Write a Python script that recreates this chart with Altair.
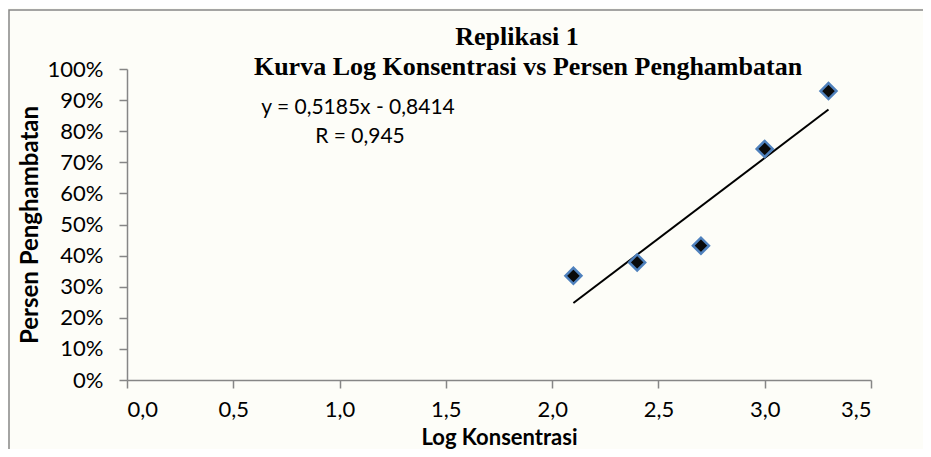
import altair as alt
import pandas as pd

# Data
log_konsentrasi = [2.1, 2.4, 2.7, 3.0, 3.3]
persen_penghambatan = [0.335, 0.378, 0.432, 0.743, 0.929]
slope = 0.5185
intercept = -0.8414
title_lines = ["Replikasi 1", "Kurva Log Konsentrasi vs Persen Penghambatan"]
equation_lines = ["y = 0,5185x - 0,8414", "R = 0,945"]
x_ticks = [0, 0.5, 1, 1.5, 2, 2.5, 3, 3.5]
y_ticks = [0, 0.1, 0.2, 0.3, 0.4, 0.5, 0.6, 0.7, 0.8, 0.9, 1.0]

W, H = 744, 311
GRAY = "#868686"

points = pd.DataFrame({"x": log_konsentrasi, "y": persen_penghambatan})
x_ends = [min(log_konsentrasi), max(log_konsentrasi)]
trend = pd.DataFrame({"x": x_ends, "y": [slope * v + intercept for v in x_ends]})

x_scale = alt.Scale(domain=[0, 3.5], nice=False, zero=False)
y_scale = alt.Scale(domain=[0, 1], nice=False)

x_axis = alt.Axis(
    title="Log Konsentrasi",
    values=x_ticks,
    tickCount=20,
    labelExpr="replace(format(datum.value, '.1f'), '.', ',')",
    labelOverlap=False,
    grid=False,
    domainColor=GRAY, domainWidth=1.5,
    tickColor=GRAY, tickWidth=1.5, tickSize=8,
    labelFont="Lato", labelFontSize=22, labelColor="#000000", labelPadding=11,
    titleFont="Lato", titleFontSize=22, titleFontWeight="bold", titleColor="#000000",
    titleBaseline="middle", titleY=57,
)
y_axis = alt.Axis(
    title="Persen Penghambatan",
    values=y_ticks,
    tickCount=20,
    format=".0%",
    labelOverlap=False,
    grid=False,
    domainColor=GRAY, domainWidth=1.5,
    tickColor=GRAY, tickWidth=1.5, tickSize=8,
    labelFont="Lato", labelFontSize=22, labelColor="#000000", labelPadding=16,
    titleFont="Lato", titleFontSize=24, titleFontWeight="bold", titleColor="#000000",
    titleBaseline="middle", titleX=-97,
)

frame = alt.Chart(pd.DataFrame({"a": [0]})).mark_rect(
    fill=None, stroke=GRAY, strokeWidth=1.5
).encode(
    x=alt.value(-118), x2=alt.value(900), y=alt.value(-59), y2=alt.value(500)
)

line = alt.Chart(trend).mark_line(color="#000000", strokeWidth=2).encode(
    x=alt.X("x:Q", scale=x_scale, axis=x_axis),
    y=alt.Y("y:Q", scale=y_scale, axis=y_axis),
)

pts = alt.Chart(points).mark_point(
    shape="diamond", filled=True, fill="#0a0a0a", stroke="#4f81bd",
    strokeWidth=2.5, size=256, opacity=1
).encode(
    x=alt.X("x:Q", scale=x_scale, axis=x_axis),
    y=alt.Y("y:Q", scale=y_scale, axis=y_axis),
)

title1 = alt.Chart(pd.DataFrame({"t": [title_lines[0]]})).mark_text(
    font="Liberation Serif", fontSize=26, fontWeight="bold", color="#000000",
    align="center", baseline="alphabetic"
).encode(text="t:N", x=alt.value(390), y=alt.value(-24))

title2 = alt.Chart(pd.DataFrame({"t": [title_lines[1]]})).mark_text(
    font="Liberation Serif", fontSize=26, fontWeight="bold", color="#000000",
    align="center", baseline="alphabetic"
).encode(text="t:N", x=alt.value(401), y=alt.value(6))

eq1 = alt.Chart(pd.DataFrame({"t": [equation_lines[0]]})).mark_text(
    font="Lato", fontSize=21, color="#000000", align="center", baseline="middle"
).encode(text="t:N", x=alt.value(231), y=alt.value(39))

eq2 = alt.Chart(pd.DataFrame({"t": [equation_lines[1]]})).mark_text(
    font="Lato", fontSize=21, color="#000000", align="center", baseline="middle"
).encode(text="t:N", x=alt.value(233), y=alt.value(68))

chart = alt.layer(frame, line, pts, title1, title2, eq1, eq2).properties(
    width=W, height=H,
    autosize=alt.AutoSizeParams(type="none"),
    padding={"left": 119, "top": 61, "right": 52, "bottom": 69},
    background="#fdfdf8",
).configure_view(stroke=None)

chart.save("out.html", embed_options={"renderer": "svg", "actions": False})
